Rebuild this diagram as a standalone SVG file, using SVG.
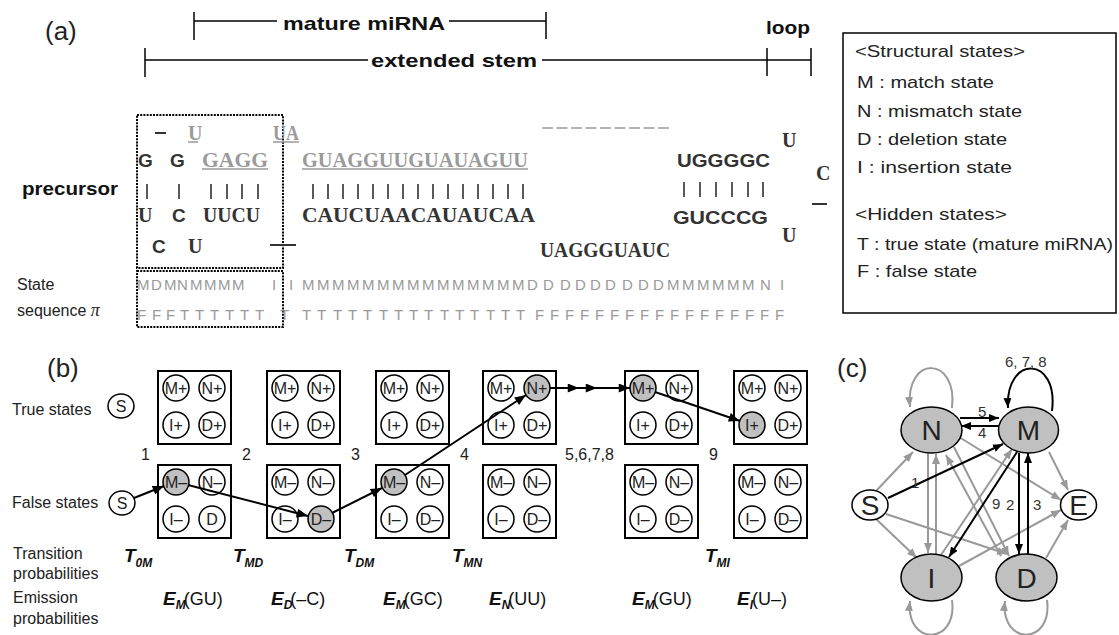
<svg xmlns="http://www.w3.org/2000/svg" width="1119" height="635" viewBox="0 0 1119 635">
<defs>
<marker id="ab" viewBox="0 0 10 8" refX="10" refY="4" markerWidth="12" markerHeight="9" markerUnits="userSpaceOnUse" orient="auto"><path d="M0,0L10,4L0,8z" fill="#000"/></marker>
<marker id="ac" viewBox="0 0 10 8" refX="10" refY="4" markerWidth="10" markerHeight="8" markerUnits="userSpaceOnUse" orient="auto"><path d="M0,0L10,4L0,8z" fill="#000"/></marker>
<marker id="ag" viewBox="0 0 10 8" refX="10" refY="4" markerWidth="10" markerHeight="8" markerUnits="userSpaceOnUse" orient="auto"><path d="M0,0L10,4L0,8z" fill="#999"/></marker>
</defs>
<style>
text{font-family:"Liberation Sans",Arial,sans-serif}
.lbl{font-size:16px;fill:#222}
.pan{font-size:26px;fill:#222}
.hdr{font-size:19px;font-weight:bold;fill:#111}
.leg{font-size:17px;fill:#222}
.nt{font-family:"Liberation Serif",serif;font-weight:bold;font-size:20px;fill:#333}
.ns{font-weight:bold;font-size:19px;fill:#333}
.g{fill:#9a9a9a}
.st{font-size:15px;fill:#9a9a9a}
.box{fill:none;stroke:#000;stroke-width:2}
.dot{fill:none;stroke:#000;stroke-width:2;stroke-dasharray:2 1.2}
.c{fill:#fff;stroke:#000;stroke-width:1.5}
.cg{fill:#c0c0c0;stroke:#000;stroke-width:1.5}
.ct{font-size:16px;text-anchor:middle;fill:#222}
.ti{font-style:italic;font-weight:bold;font-size:19px;fill:#111}
.sub{font-style:italic;font-weight:bold;font-size:12px;fill:#111}
.par{font-size:18px;fill:#111}
.blk{stroke:#000;stroke-width:2;fill:none}
.gry{stroke:#999;stroke-width:2;fill:none}
.bar{stroke:#222;stroke-width:1.5}
.ul{stroke:#9a9a9a;stroke-width:1.5}
.en{font-size:28px;text-anchor:middle;fill:#222}
.el{font-size:15px;fill:#333}
</style>

<!-- Panel (a) -->
<g id="panel-a">
<text class="pan" x="45" y="40">(a)</text>
<g id="ranges">
<line x1="194" y1="12" x2="194" y2="40" stroke="#000" stroke-width="1.5"/>
<line x1="194" y1="21" x2="277" y2="21" stroke="#000" stroke-width="1.5"/>
<text class="hdr" x="283" y="30" textLength="162" lengthAdjust="spacingAndGlyphs">mature miRNA</text>
<line x1="449" y1="21" x2="546" y2="21" stroke="#000" stroke-width="1.5"/>
<line x1="546" y1="12" x2="546" y2="39" stroke="#000" stroke-width="1.5"/>
<line x1="145" y1="48" x2="145" y2="77" stroke="#000" stroke-width="1.5"/>
<line x1="145" y1="60" x2="368" y2="60" stroke="#000" stroke-width="1.5"/>
<text class="hdr" x="371" y="67" textLength="166" lengthAdjust="spacingAndGlyphs">extended stem</text>
<line x1="542" y1="60" x2="811" y2="60" stroke="#000" stroke-width="1.5"/>
<line x1="767" y1="48" x2="767" y2="76" stroke="#000" stroke-width="1.5"/>
<line x1="811" y1="48" x2="811" y2="76" stroke="#000" stroke-width="1.5"/>
<text class="hdr" x="766" y="34" textLength="44" lengthAdjust="spacingAndGlyphs">loop</text>
</g>

<text class="hdr" x="22" y="195" textLength="96" lengthAdjust="spacingAndGlyphs">precursor</text>

<g id="hairpin">
<rect class="dot" x="137" y="115" width="146" height="153"/>
<rect class="dot" x="137" y="271" width="146" height="56"/>
<!-- row A -->
<line x1="155" y1="133" x2="166" y2="133" stroke="#333" stroke-width="2"/>
<text class="nt g" x="188" y="140">U</text>
<line class="ul" x1="188" y1="142" x2="198" y2="142"/>
<text class="nt g" x="273" y="140" textLength="26" lengthAdjust="spacingAndGlyphs">UA</text>
<line class="ul" x1="273" y1="142" x2="299" y2="142"/>
<line x1="542" y1="128" x2="672" y2="128" stroke="#9a9a9a" stroke-width="1.5" stroke-dasharray="11 3.5"/>
<!-- row B -->
<text class="ns" x="138" y="167">G</text>
<text class="ns" x="170" y="167">G</text>
<text class="nt g" x="202" y="167" textLength="66" lengthAdjust="spacingAndGlyphs">GAGG</text>
<line class="ul" x1="202" y1="169" x2="268" y2="169"/>
<text class="nt g" x="302" y="167" textLength="226" lengthAdjust="spacingAndGlyphs">GUAGGUUGUAUAGUU</text>
<line class="ul" x1="302" y1="169" x2="528" y2="169"/>
<text class="ns" x="677" y="167" textLength="93" lengthAdjust="spacingAndGlyphs">UGGGGC</text>
<!-- loop -->
<text class="nt" x="782" y="147">U</text>
<text class="nt" x="816" y="180">C</text>
<line x1="812" y1="204" x2="827" y2="204" stroke="#333" stroke-width="2"/>
<text class="nt" x="782" y="242">U</text>
<!-- bars -->
<g class="bar">
<line x1="147" y1="184" x2="147" y2="199"/><line x1="179" y1="184" x2="179" y2="199"/>
<line x1="211" y1="184" x2="211" y2="199"/><line x1="227" y1="184" x2="227" y2="199"/>
<line x1="242" y1="184" x2="242" y2="199"/><line x1="258" y1="184" x2="258" y2="199"/>
<line x1="313" y1="184" x2="313" y2="199"/><line x1="328" y1="184" x2="328" y2="199"/>
<line x1="343" y1="184" x2="343" y2="199"/><line x1="358" y1="184" x2="358" y2="199"/>
<line x1="373" y1="184" x2="373" y2="199"/><line x1="388" y1="184" x2="388" y2="199"/>
<line x1="403" y1="184" x2="403" y2="199"/><line x1="418" y1="184" x2="418" y2="199"/>
<line x1="433" y1="184" x2="433" y2="199"/><line x1="448" y1="184" x2="448" y2="199"/>
<line x1="463" y1="184" x2="463" y2="199"/><line x1="478" y1="184" x2="478" y2="199"/>
<line x1="493" y1="184" x2="493" y2="199"/><line x1="508" y1="184" x2="508" y2="199"/>
<line x1="523" y1="184" x2="523" y2="199"/>
<line x1="684" y1="182" x2="684" y2="197"/><line x1="700" y1="182" x2="700" y2="197"/>
<line x1="716" y1="182" x2="716" y2="197"/><line x1="732" y1="182" x2="732" y2="197"/>
<line x1="748" y1="182" x2="748" y2="197"/><line x1="763" y1="182" x2="763" y2="197"/>
</g>
<!-- row C -->
<text class="nt" x="138" y="222">U</text>
<text class="ns" x="172" y="222">C</text>
<text class="nt" x="203" y="222" textLength="57" lengthAdjust="spacingAndGlyphs">UUCU</text>
<text class="nt" x="302" y="222" textLength="233" lengthAdjust="spacingAndGlyphs">CAUCUAACAUAUCAA</text>
<text class="ns" x="673" y="224" textLength="95" lengthAdjust="spacingAndGlyphs">GUCCCG</text>
<!-- row D -->
<text class="ns" x="152" y="253">C</text>
<text class="nt" x="188" y="253">U</text>
<line x1="270" y1="245" x2="296" y2="245" stroke="#333" stroke-width="2"/>
<text class="nt" x="540" y="257" textLength="130" lengthAdjust="spacingAndGlyphs">UAGGGUAUC</text>
</g>

<g id="state-sequence">
<text class="lbl" x="17" y="290">State</text>
<text class="lbl" x="17" y="316">sequence <tspan font-family="'Liberation Serif',serif" font-style="italic" font-size="18">π</tspan></text>
<text class="st" y="290" x="137 151 164 177 190 204 218 232 272 289">MDMNMMMMII</text>
<text class="st" y="290" x="302 317 332 347 362 377 392 407 422 437 452 467 482 497 512">MMMMMMMMMMMMMMM</text>
<text class="st" y="290" x="527 543 560 575 590 605 622 638 653">DDDDDDDDD</text>
<text class="st" y="290" x="667 682 697 712 727 742 760 780">MMMMMMNI</text>
<text class="st" y="320" x="137 152 166 180 195 210 225 240 255 280">FFFTTTTTTT</text>
<text class="st" y="320" x="302 317 333 348 363 379 394 409 424 440 455 470 486 501 516">TTTTTTTTTTTTTTT</text>
<text class="st" y="320" x="535 550 565 580 595 610 625 640 655 670 685 700 715 730 745 760 775">FFFFFFFFFFFFFFFFF</text>
</g>
</g>

<!-- Legend -->
<g id="legend">
<rect x="843" y="33" width="273" height="280" fill="none" stroke="#000" stroke-width="1.5"/>
<text class="leg" x="855" y="57" textLength="170" lengthAdjust="spacingAndGlyphs">&lt;Structural states&gt;</text>
<text class="leg" x="857" y="88" textLength="137" lengthAdjust="spacingAndGlyphs">M : match state</text>
<text class="leg" x="857" y="117" textLength="165" lengthAdjust="spacingAndGlyphs">N : mismatch state</text>
<text class="leg" x="857" y="145" textLength="150" lengthAdjust="spacingAndGlyphs">D : deletion state</text>
<text class="leg" x="857" y="173" textLength="155" lengthAdjust="spacingAndGlyphs">I  : insertion state</text>
<text class="leg" x="855" y="220" textLength="152" lengthAdjust="spacingAndGlyphs">&lt;Hidden states&gt;</text>
<text class="leg" x="857" y="250" textLength="256" lengthAdjust="spacingAndGlyphs">T : true state (mature miRNA)</text>
<text class="leg" x="857" y="277" textLength="120" lengthAdjust="spacingAndGlyphs">F : false state</text>
</g>

<!-- Panel (b) -->
<g id="panel-b">
<text class="pan" x="47" y="377">(b)</text>
<text class="lbl" x="12" y="415">True states</text>
<text class="lbl" x="12" y="508">False states</text>
<text class="lbl" x="13" y="559">Transition</text>
<text class="lbl" x="13" y="579">probabilities</text>
<text class="lbl" x="13" y="603">Emission</text>
<text class="lbl" x="13" y="624">probabilities</text>

<g id="s-true"><ellipse class="c" cx="121" cy="406" rx="13" ry="12"/><text class="ct" x="121" y="412">S</text></g>
<g id="s-false"><ellipse class="c" cx="122" cy="503" rx="13" ry="12"/><text class="ct" x="122" y="509">S</text></g>

<g id="t1"><rect class="box" x="158" y="371" width="73" height="73"/>
<circle class="c" cx="176" cy="388" r="13"/><text class="ct" x="176" y="394">M+</text>
<circle class="c" cx="212" cy="388" r="13"/><text class="ct" x="212" y="394">N+</text>
<circle class="c" cx="176" cy="425" r="13"/><text class="ct" x="176" y="431">I+</text>
<circle class="c" cx="212" cy="425" r="13"/><text class="ct" x="212" y="431">D+</text></g>
<g id="t2"><rect class="box" x="267" y="371" width="73" height="73"/>
<circle class="c" cx="285" cy="388" r="13"/><text class="ct" x="285" y="394">M+</text>
<circle class="c" cx="321" cy="388" r="13"/><text class="ct" x="321" y="394">N+</text>
<circle class="c" cx="285" cy="425" r="13"/><text class="ct" x="285" y="431">I+</text>
<circle class="c" cx="321" cy="425" r="13"/><text class="ct" x="321" y="431">D+</text></g>
<g id="t3"><rect class="box" x="376" y="371" width="73" height="73"/>
<circle class="c" cx="394" cy="388" r="13"/><text class="ct" x="394" y="394">M+</text>
<circle class="c" cx="430" cy="388" r="13"/><text class="ct" x="430" y="394">N+</text>
<circle class="c" cx="394" cy="425" r="13"/><text class="ct" x="394" y="431">I+</text>
<circle class="c" cx="430" cy="425" r="13"/><text class="ct" x="430" y="431">D+</text></g>
<g id="t4"><rect class="box" x="483" y="371" width="73" height="73" stroke="#555"/>
<circle class="c" cx="501" cy="388" r="13"/><text class="ct" x="501" y="394">M+</text>
<circle class="cg" cx="537" cy="388" r="13"/><text class="ct" x="537" y="394">N+</text>
<circle class="c" cx="501" cy="425" r="13"/><text class="ct" x="501" y="431">I+</text>
<circle class="c" cx="537" cy="425" r="13"/><text class="ct" x="537" y="431">D+</text></g>
<g id="t5"><rect class="box" x="625" y="371" width="73" height="73"/>
<circle class="cg" cx="643" cy="388" r="13"/><text class="ct" x="643" y="394">M+</text>
<circle class="c" cx="679" cy="388" r="13"/><text class="ct" x="679" y="394">N+</text>
<circle class="c" cx="643" cy="425" r="13"/><text class="ct" x="643" y="431">I+</text>
<circle class="c" cx="679" cy="425" r="13"/><text class="ct" x="679" y="431">D+</text></g>
<g id="t6"><rect class="box" x="734" y="371" width="73" height="73"/>
<circle class="c" cx="752" cy="388" r="13"/><text class="ct" x="752" y="394">M+</text>
<circle class="c" cx="788" cy="388" r="13"/><text class="ct" x="788" y="394">N+</text>
<circle class="cg" cx="752" cy="425" r="13"/><text class="ct" x="752" y="431">I+</text>
<circle class="c" cx="788" cy="425" r="13"/><text class="ct" x="788" y="431">D+</text></g>

<g id="f1"><rect class="box" x="158" y="465" width="73" height="73"/>
<circle class="cg" cx="176" cy="482" r="13"/><text class="ct" x="176" y="488">M–</text>
<circle class="c" cx="212" cy="482" r="13"/><text class="ct" x="212" y="488">N–</text>
<circle class="c" cx="176" cy="519" r="13"/><text class="ct" x="176" y="525">I–</text>
<circle class="c" cx="212" cy="519" r="13"/><text class="ct" x="212" y="525">D</text></g>
<g id="f2"><rect class="box" x="267" y="465" width="73" height="73"/>
<circle class="c" cx="285" cy="482" r="13"/><text class="ct" x="285" y="488">M–</text>
<circle class="c" cx="321" cy="482" r="13"/><text class="ct" x="321" y="488">N–</text>
<circle class="c" cx="285" cy="519" r="13"/><text class="ct" x="285" y="525">I–</text>
<circle class="cg" cx="321" cy="519" r="13"/><text class="ct" x="321" y="525">D–</text></g>
<g id="f3"><rect class="box" x="376" y="465" width="73" height="73"/>
<circle class="cg" cx="394" cy="482" r="13"/><text class="ct" x="394" y="488">M–</text>
<circle class="c" cx="430" cy="482" r="13"/><text class="ct" x="430" y="488">N–</text>
<circle class="c" cx="394" cy="519" r="13"/><text class="ct" x="394" y="525">I–</text>
<circle class="c" cx="430" cy="519" r="13"/><text class="ct" x="430" y="525">D–</text></g>
<g id="f4"><rect class="box" x="483" y="465" width="73" height="73"/>
<circle class="c" cx="501" cy="482" r="13"/><text class="ct" x="501" y="488">M–</text>
<circle class="c" cx="537" cy="482" r="13"/><text class="ct" x="537" y="488">N–</text>
<circle class="c" cx="501" cy="519" r="13"/><text class="ct" x="501" y="525">I–</text>
<circle class="c" cx="537" cy="519" r="13"/><text class="ct" x="537" y="525">D–</text></g>
<g id="f5"><rect class="box" x="625" y="465" width="73" height="73"/>
<circle class="c" cx="643" cy="482" r="13"/><text class="ct" x="643" y="488">M–</text>
<circle class="c" cx="679" cy="482" r="13"/><text class="ct" x="679" y="488">N–</text>
<circle class="c" cx="643" cy="519" r="13"/><text class="ct" x="643" y="525">I–</text>
<circle class="c" cx="679" cy="519" r="13"/><text class="ct" x="679" y="525">D–</text></g>
<g id="f6"><rect class="box" x="734" y="465" width="73" height="73"/>
<circle class="c" cx="752" cy="482" r="13"/><text class="ct" x="752" y="488">M–</text>
<circle class="c" cx="788" cy="482" r="13"/><text class="ct" x="788" y="488">N–</text>
<circle class="c" cx="752" cy="519" r="13"/><text class="ct" x="752" y="525">I–</text>
<circle class="c" cx="788" cy="519" r="13"/><text class="ct" x="788" y="525">D–</text></g>

<g id="steps" class="lbl">
<text x="141" y="460">1</text>
<text x="242" y="460">2</text>
<text x="351" y="460">3</text>
<text x="460" y="460">4</text>
<text x="565" y="460">5,6,7,8</text>
<text x="709" y="460">9</text>
</g>

<g id="transitions">
<text x="124" y="562"><tspan class="ti">T</tspan><tspan class="sub" dy="5">0M</tspan></text>
<text x="233" y="562"><tspan class="ti">T</tspan><tspan class="sub" dy="5">MD</tspan></text>
<text x="344" y="562"><tspan class="ti">T</tspan><tspan class="sub" dy="5">DM</tspan></text>
<text x="452" y="562"><tspan class="ti">T</tspan><tspan class="sub" dy="5">MN</tspan></text>
<text x="705" y="562"><tspan class="ti">T</tspan><tspan class="sub" dy="5">MI</tspan></text>
</g>
<g id="emissions">
<text x="163" y="605"><tspan class="ti">E</tspan><tspan class="sub" dy="4">M</tspan><tspan class="par" dy="-4" dx="-2">(GU)</tspan></text>
<text x="271" y="605"><tspan class="ti">E</tspan><tspan class="sub" dy="4">D</tspan><tspan class="par" dy="-4" dx="-2">(–C)</tspan></text>
<text x="383" y="605"><tspan class="ti">E</tspan><tspan class="sub" dy="4">M</tspan><tspan class="par" dy="-4" dx="-2">(GC)</tspan></text>
<text x="489" y="605"><tspan class="ti">E</tspan><tspan class="sub" dy="4">N</tspan><tspan class="par" dy="-4" dx="-2">(UU)</tspan></text>
<text x="632" y="605"><tspan class="ti">E</tspan><tspan class="sub" dy="4">M</tspan><tspan class="par" dy="-4" dx="-2">(GU)</tspan></text>
<text x="737" y="605"><tspan class="ti">E</tspan><tspan class="sub" dy="4">I</tspan><tspan class="par" dy="-4" dx="-1">(U–)</tspan></text>
</g>

<g id="path-b" class="blk" marker-end="url(#ab)">
<line x1="134" y1="498" x2="164" y2="486"/>
<line x1="188" y1="485" x2="308" y2="516"/>
<line x1="332" y1="513" x2="382" y2="488"/>
<line x1="405" y1="475" x2="526" y2="395"/>
<polyline points="550,388 579,388 597,388 630,388" marker-mid="url(#ab)"/>
<line x1="655" y1="392" x2="740" y2="421"/>
</g>
</g>

<!-- Panel (c) -->
<g id="panel-c">
<text class="pan" x="837" y="377">(c)</text>
<g id="c-edges">
<g class="gry" marker-end="url(#ag)">
<path d="M952,408 C958,355 905,355 910,407"/>
<path d="M952,600 C958,646 905,646 910,601"/>
<path d="M1047,600 C1053,646 1000,646 1005,601"/>
<line x1="876" y1="491" x2="913" y2="452"/>
<line x1="876" y1="519" x2="917" y2="558"/>
<line x1="886" y1="514" x2="1007" y2="554"/>
<line x1="928" y1="453" x2="928" y2="553"/>
<line x1="936" y1="554" x2="936" y2="454"/>
<line x1="959" y1="437" x2="1061" y2="500"/>
<line x1="954" y1="447" x2="1009" y2="556"/>
<line x1="1001" y1="556" x2="946" y2="455"/>
<line x1="941" y1="555" x2="1012" y2="449"/>
<line x1="959" y1="566" x2="1061" y2="510"/>
<line x1="1049" y1="452" x2="1068" y2="490"/>
<line x1="1046" y1="558" x2="1068" y2="520"/>
</g>
<g class="blk" marker-end="url(#ac)">
<line x1="960" y1="418" x2="999" y2="418"/>
<line x1="999" y1="426" x2="961" y2="426"/>
<path d="M1052,411 C1059,355 1005,355 1008,408"/>
<line x1="888" y1="498" x2="1003" y2="444"/>
<line x1="1017" y1="452" x2="949" y2="557"/>
<line x1="1019" y1="453" x2="1019" y2="554"/>
<line x1="1028" y1="554" x2="1028" y2="453"/>
</g>
<g class="el">
<text x="1005" y="367">6, 7, 8</text>
<text x="978" y="417">5</text>
<text x="978" y="438">4</text>
<text x="911" y="488">1</text>
<text x="992" y="509">9</text>
<text x="1006" y="510">2</text>
<text x="1033" y="510">3</text>
</g>
</g>
<g id="node-N"><ellipse class="cg" cx="931.5" cy="430" rx="30.5" ry="23"/><text class="en" x="931.5" y="440">N</text></g>
<g id="node-M"><ellipse class="cg" cx="1028.5" cy="430" rx="30" ry="23"/><text class="en" x="1028.5" y="440">M</text></g>
<g id="node-S"><ellipse class="c" cx="870" cy="505" rx="18" ry="15"/><text class="en" x="870" y="515" font-size="26">S</text></g>
<g id="node-E"><ellipse class="c" cx="1078.5" cy="505" rx="18" ry="15"/><text class="en" x="1078.5" y="515" font-size="26">E</text></g>
<g id="node-I"><ellipse class="cg" cx="931.5" cy="577.5" rx="30.5" ry="23.5"/><text class="en" x="931.5" y="587.5">I</text></g>
<g id="node-D"><ellipse class="cg" cx="1026.5" cy="577.5" rx="30.5" ry="23.5"/><text class="en" x="1026.5" y="587.5">D</text></g>
</g>
</svg>
